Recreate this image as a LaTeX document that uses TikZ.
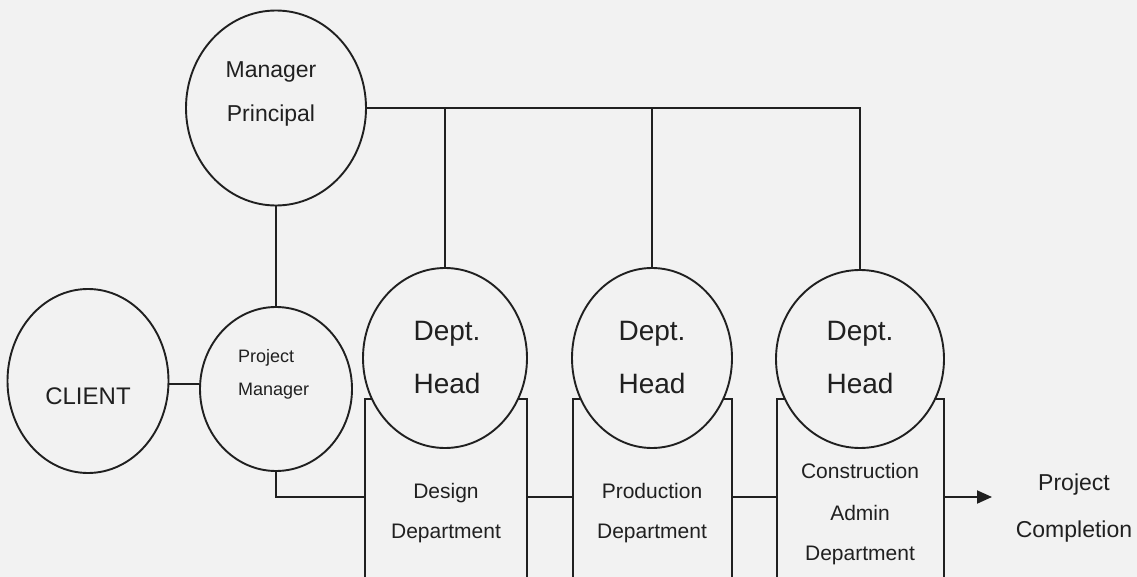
\documentclass[tikz,border=0pt]{standalone}
\usepackage{fontspec}
\setmainfont{Liberation Sans}
\usetikzlibrary{shapes.geometric,arrows.meta}
\definecolor{paper}{RGB}{242,242,242}
\definecolor{ink}{RGB}{32,32,32}
\begin{document}
\begin{tikzpicture}[x=1pt,y=-1pt,
  bubble/.style={ellipse,draw=ink,line width=1.9pt,fill=paper,inner sep=0pt},
  deptbox/.style={rectangle,draw=ink,line width=1.9pt,fill=paper,
    minimum width=#1,minimum height=196pt,inner sep=0pt},
  link/.style={draw=ink,line width=1.9pt},
  txt/.style={anchor=base,inner sep=0pt,text=ink},
  big/.style={txt,font=\fontsize{28}{32}\selectfont},
  mid/.style={txt,font=\fontsize{23}{27}\selectfont},
  small/.style={txt,font=\fontsize{21}{25}\selectfont},
  tiny/.style={txt,font=\fontsize{18}{22}\selectfont,anchor=base west},
]
\fill[paper] (0,0) rectangle (1137,577);
\useasboundingbox (0,0) rectangle (1137,577);
\clip (0,0) rectangle (1137,577);

% department boxes (run past the lower edge)
\node[deptbox=162pt] (box1) at (446,497) {};
\node[deptbox=159pt] (box2) at (652.5,497) {};
\node[deptbox=167pt] (box3) at (860.5,497) {};

% people
\node[bubble,minimum width=180pt,minimum height=195pt] (mp) at (276,108) {};
\node[bubble,minimum width=161pt,minimum height=184pt] (client) at (88,381) {};
\node[bubble,minimum width=152pt,minimum height=164pt] (pm) at (276,389) {};
\node[bubble,minimum width=164pt,minimum height=180pt] (dh1) at (445,358) {};
\node[bubble,minimum width=160pt,minimum height=180pt] (dh2) at (652,358) {};
\node[bubble,minimum width=168pt,minimum height=178pt] (dh3) at (860,359) {};
\coordinate (done) at (992,497);

% connectors
\draw[link] (mp.east) -| (dh3.north);
\draw[link] (dh1.north) -- (dh1.north |- mp.east);
\draw[link] (dh2.north) -- (dh2.north |- mp.east);
\draw[link] (mp.south) -- (pm.north);
\draw[link] ([yshift=-3pt]client.east) -- ([yshift=5pt]pm.west);
\draw[link] (pm.south) |- (box1.west);
\draw[link] (box1.east) -- (box2.west);
\draw[link] (box2.east) -- (box3.west);
\draw[link,-{Triangle[length=15pt,width=13pt]}] (box3.east) -- (done);

% labels
\node[mid] (mpA) at (271,78) {Manager};
\node[mid] (mpB) at (271,122) {Principal};
\node[txt,font=\fontsize{24}{28}\selectfont] (clientT) at (88,404) {CLIENT};
\node[tiny] (pmA) at (238,362) {Project};
\node[tiny] (pmB) at (238,395) {Manager};
\foreach \i/\x in {1/447,2/652,3/860}{
  \node[big] (dhA\i) at (\x,340) {Dept.};
  \node[big] (dhB\i) at (\x,393) {Head};
}
\node[small] (b1A) at (446,498) {Design};
\node[small] (b1B) at (446,538) {Department};
\node[small] (b2A) at (652,498) {Production};
\node[small] (b2B) at (652,538) {Department};
\node[small] (b3A) at (860,478) {Construction};
\node[small] (b3B) at (860,520) {Admin};
\node[small] (b3C) at (860,560) {Department};
\node[mid] (endA) at (1074,490) {Project};
\node[mid] (endB) at (1074,537) {Completion};
\end{tikzpicture}
\end{document}
